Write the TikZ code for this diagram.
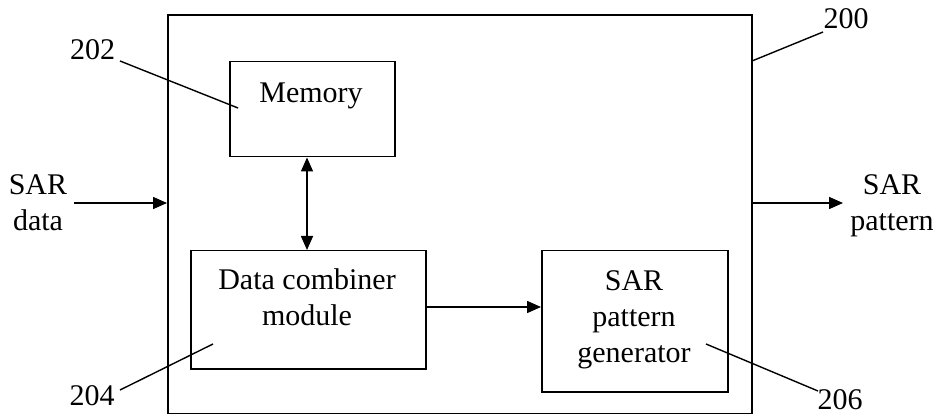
\documentclass[tikz,border=0pt]{standalone}
\usepackage{fontspec}
\setmainfont{Liberation Serif}
\usetikzlibrary{arrows.meta}
\begin{document}
\begin{tikzpicture}[x=1pt,y=-1pt,
  box/.style={draw=black,line width=1.5pt,inner sep=0pt,anchor=north west},
  txt/.style={font=\fontsize{30}{36}\selectfont,inner sep=0pt,align=center},
  arr/.style={line width=1.5pt,-{Triangle[length=14pt,width=12pt]}},
  darr/.style={line width=1.5pt,{Triangle[length=14pt,width=12pt]}-{Triangle[length=14pt,width=12pt]}},
  lead/.style={line width=1.4pt}]
\useasboundingbox (0,0) rectangle (943,414);
% outer block 200
\node[box,line width=1.8pt,minimum width=584pt,minimum height=399pt] (outer) at (167,14) {};
% inner blocks
\node[box,minimum width=165pt,minimum height=95pt] (mem) at (229,61) {};
\node[box,minimum width=235pt,minimum height=118pt] (comb) at (190,250) {};
\node[box,minimum width=186pt,minimum height=141pt] (gen) at (541,250) {};
% texts
\node[txt,anchor=base] (memT) at (311,103) {Memory};
\node[txt] (combT) at (307,297) {Data combiner\\module};
\node[txt] (genT) at (634,320) {SAR\\pattern\\generator};
\node[txt] (inT) at (38,202.5) {SAR\\data};
\node[txt] (outT) at (892,205.5) {SAR\\pattern};
% reference numbers
\node[txt,anchor=base] (n202) at (92.5,60) {202};
\node[txt,anchor=base] (n200) at (846,29) {200};
\node[txt,anchor=base] (n204) at (92,405) {204};
\node[txt,anchor=base] (n206) at (840,409) {206};
% leader lines
\coordinate (l202a) at (120,61);  \coordinate (l202b) at (238,108);
\coordinate (l200a) at (823,32);  \coordinate (l200b) at (752,61);
\coordinate (l204a) at (120,390); \coordinate (l204b) at (213,344);
\coordinate (l206a) at (818,391); \coordinate (l206b) at (706,344);
\draw[lead] (l202a) -- (l202b);
\draw[lead] (l200a) -- (l200b);
\draw[lead] (l204a) -- (l204b);
\draw[lead] (l206a) -- (l206b);
% connectors
\coordinate (inA) at (74,203);
\coordinate (outB) at (843,203);
\coordinate (vx) at (307,0);
\coordinate (hy) at (0,307);
\draw[arr] (inA) -- (inA -| outer.west);
\draw[arr] (outB -| outer.east) -- (outB);
\draw[darr] (vx |- mem.south) -- (vx |- comb.north);
\draw[arr] (comb.east |- hy) -- (gen.west |- hy);
\end{tikzpicture}
\end{document}
